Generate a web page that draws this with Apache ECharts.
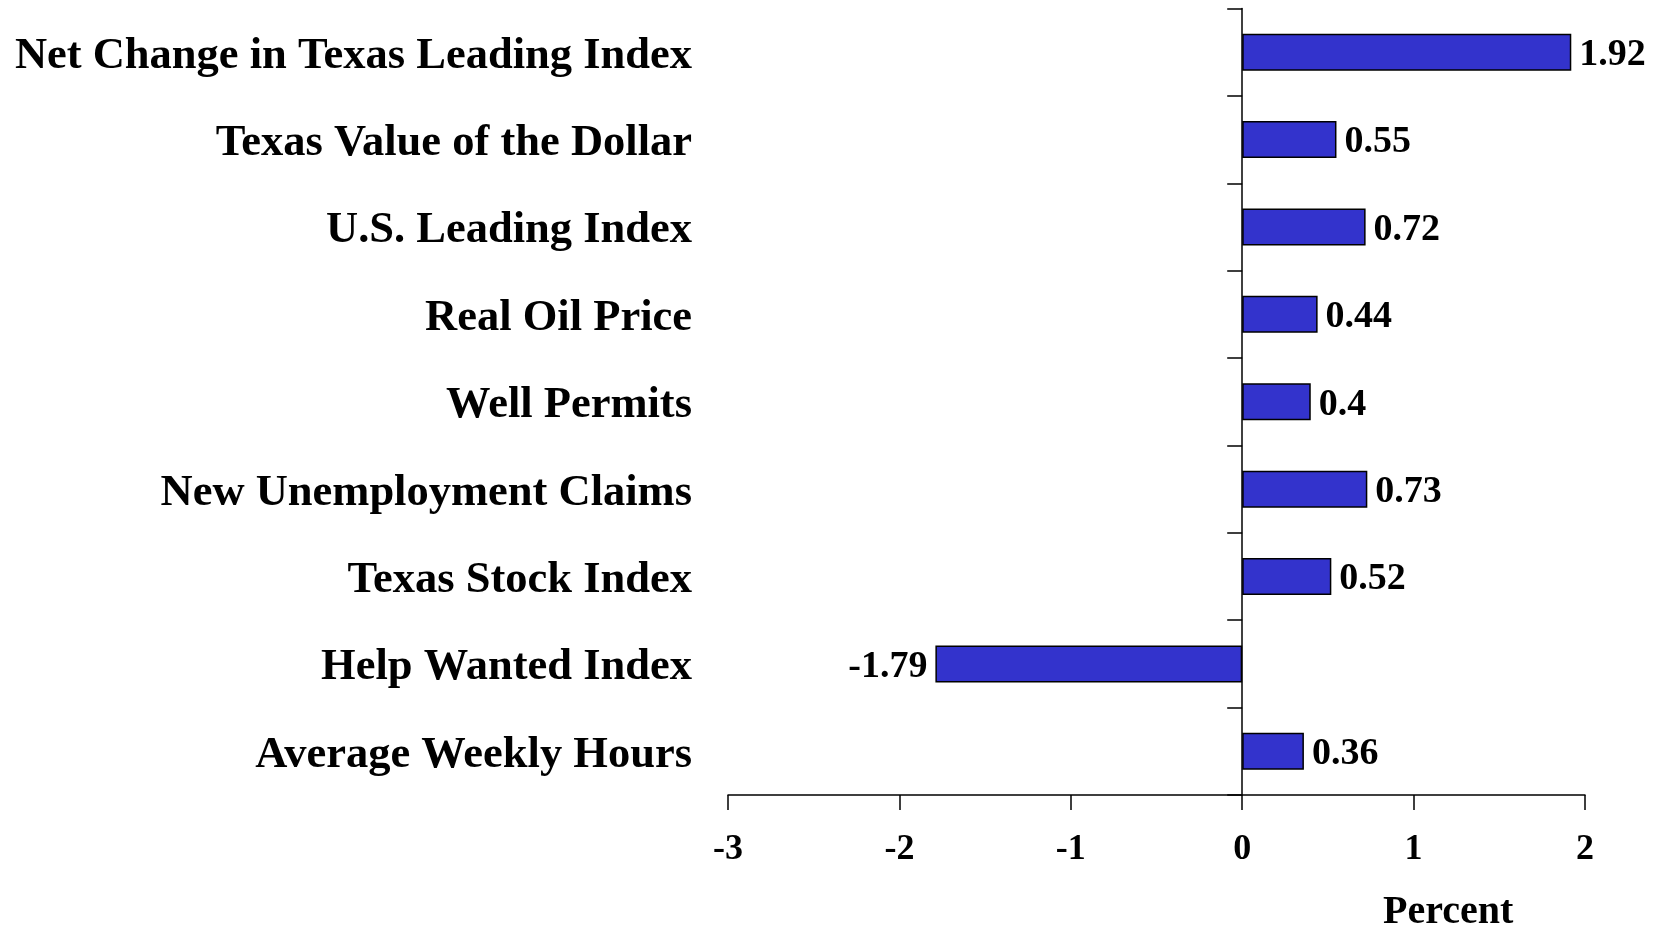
<!DOCTYPE html>
<html>
<head>
<meta charset="utf-8">
<script src="https://cdn.jsdelivr.net/npm/echarts@6/dist/echarts.min.js"></script>
<style>
  html, body { margin: 0; padding: 0; background: #fff; }
  #chart { width: 1662px; height: 926px; }
</style>
</head>
<body>
<div id="chart"></div>
<script>
// Contributions to the change in the Texas Leading Index (percent)
const categories = [
  'Net Change in Texas Leading Index',
  'Texas Value of the Dollar',
  'U.S. Leading Index',
  'Real Oil Price',
  'Well Permits',
  'New Unemployment Claims',
  'Texas Stock Index',
  'Help Wanted Index',
  'Average Weekly Hours'
];
const values = [1.92, 0.55, 0.72, 0.44, 0.4, 0.73, 0.52, -1.79, 0.36];
const xTicks = { min: -3, max: 2, interval: 1 };
const axisTitle = 'Percent';

const FONT = '"Liberation Serif", "Times New Roman", serif';

const barData = values.map(v => ({
  value: v,
  label: { position: v < 0 ? 'left' : 'right' }
}));

const chart = echarts.init(document.getElementById('chart'));
chart.setOption({
  backgroundColor: '#ffffff',
  animation: false,
  title: {
    text: axisTitle,
    left: 1378,
    top: 888,
    textStyle: { fontFamily: FONT, fontWeight: 'bold', fontSize: 40, color: '#000' }
  },
  grid: { left: 728, right: 77, top: 8.5, bottom: 131, containLabel: false },
  xAxis: {
    type: 'value',
    min: xTicks.min,
    max: xTicks.max,
    interval: xTicks.interval,
    splitLine: { show: false },
    axisLine: { show: true, onZero: false, lineStyle: { color: '#000', width: 1.5 } },
    axisTick: { show: true, length: 15, lineStyle: { color: '#000', width: 1.5 } },
    axisLabel: {
      margin: 37,
      fontFamily: FONT, fontWeight: 'bold', fontSize: 36, color: '#000'
    }
  },
  yAxis: [
    {
      // category names on the left edge
      type: 'category',
      inverse: true,
      data: categories,
      position: 'left',
      axisLine: { show: false, onZero: false },
      axisTick: { show: false },
      axisLabel: {
        margin: 36,
        formatter: v => '{c|' + v + '}',
        rich: {
          c: {
            padding: [8, 0, 0, 0],
            fontFamily: FONT, fontWeight: 'bold', fontSize: 44.5, color: '#000'
          }
        },
        fontFamily: FONT, fontWeight: 'bold', fontSize: 44.5, color: '#000'
      }
    },
    {
      // vertical axis line through zero with band ticks
      type: 'category',
      inverse: true,
      data: categories,
      position: 'left',
      axisLine: { show: true, onZero: true, onZeroAxisIndex: 0, lineStyle: { color: '#000', width: 1.5 } },
      axisTick: { show: true, length: 15, inside: false, lineStyle: { color: '#000', width: 1.5 } },
      axisLabel: { show: false }
    }
  ],
  series: [{
    type: 'bar',
    yAxisIndex: 0,
    data: barData,
    barWidth: 37,
    itemStyle: { color: '#3333CC', borderColor: '#000', borderWidth: 1.5 },
    label: {
      show: true,
      distance: 8,
      offset: [0, 3],
      fontFamily: FONT, fontWeight: 'bold', fontSize: 38, color: '#000'
    }
  }]
});
</script>
</body>
</html>
